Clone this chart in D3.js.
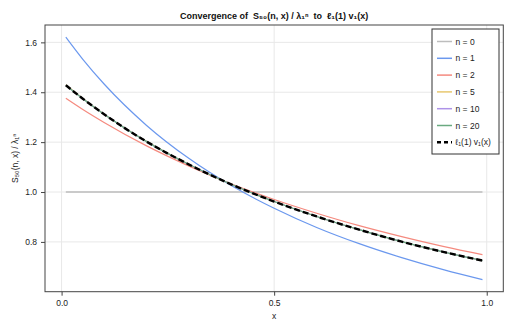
<!DOCTYPE html>
<html>
<head>
<meta charset="utf-8">
<script src="https://cdn.jsdelivr.net/npm/d3@7"></script>
<style>
  body { margin: 0; background: #fff; }
  svg { display: block; font-family: "Liberation Sans", Arial, sans-serif; }
</style>
</head>
<body>
<svg id="chart" width="515" height="332"></svg>
<script>
// ---- data ----
const xs      = [0.01, 0.05, 0.1, 0.2, 0.3, 0.4, 0.5, 0.6, 0.7, 0.8, 0.9, 0.99];
const n0      = [1.0, 1.0, 1.0, 1.0, 1.0, 1.0, 1.0, 1.0, 1.0, 1.0, 1.0, 1.0];
const n1      = [1.621, 1.532, 1.433, 1.267, 1.134, 1.025, 0.935, 0.858, 0.793, 0.737, 0.688, 0.649];
const n2      = [1.376, 1.331, 1.279, 1.185, 1.104, 1.032, 0.970, 0.915, 0.865, 0.821, 0.781, 0.749];
const n5      = [1.430, 1.375, 1.312, 1.203, 1.110, 1.030, 0.962, 0.902, 0.849, 0.801, 0.759, 0.725];
const n10     = [1.428, 1.374, 1.312, 1.202, 1.110, 1.030, 0.962, 0.902, 0.849, 0.801, 0.759, 0.725];
const n20     = [1.428, 1.374, 1.312, 1.202, 1.110, 1.030, 0.962, 0.902, 0.849, 0.801, 0.759, 0.725];
const limit   = [1.428, 1.374, 1.312, 1.202, 1.110, 1.030, 0.962, 0.902, 0.849, 0.801, 0.759, 0.725];
const xTicks  = [0.0, 0.5, 1.0];
const yTicks  = [0.8, 1.0, 1.2, 1.4, 1.6];
const seriesNames = ["n = 0", "n = 1", "n = 2", "n = 5", "n = 10", "n = 20"];
const limitName = "ℓ₁(1) v₁(x)";
const titleText = "Convergence of\u00a0 S₅₀(n, x) / λ₁ⁿ\u00a0 to\u00a0 ℓ₁(1) v₁(x)";
const yLabel = "S₅₀(n, x) / λ₁ⁿ";
const xLabel = "x";

// ---- layout ----
const svg = d3.select("#chart");
const L = 45, R = 503.3, T = 25, B = 291.7;
const colors = ["#bdbdbd", "#6b98ee", "#f58a7f", "#e8c870", "#ae93e8", "#6aaa80"];

const allY = [].concat(n0, n1, n2, n5, n10, n20, limit);
const xr = d3.extent(xs), yr = d3.extent(allY);
const xm = (xr[1] - xr[0]) * 0.05, ym = (yr[1] - yr[0]) * 0.05;
const x = d3.scaleLinear().domain([xr[0] - xm, xr[1] + xm]).range([L, R]);
const y = d3.scaleLinear().domain([yr[0] - ym, yr[1] + ym]).range([B, T]);

// grid
const grid = svg.append("g");
grid.selectAll(".gx").data(xTicks).enter().append("line")
  .attr("x1", d => x(d)).attr("x2", d => x(d)).attr("y1", T).attr("y2", B)
  .attr("stroke", "#e8e8e8").attr("stroke-width", 1);
grid.selectAll(".gy").data(yTicks).enter().append("line")
  .attr("y1", d => y(d)).attr("y2", d => y(d)).attr("x1", L).attr("x2", R)
  .attr("stroke", "#e8e8e8").attr("stroke-width", 1);

// series
const series = [n0, n1, n2, n5, n10, n20];
const line = d3.line().x((d, i) => x(xs[i])).y(d => y(d)).curve(d3.curveMonotoneX);
series.forEach((s, k) => {
  svg.append("path").datum(s).attr("d", line)
    .attr("fill", "none").attr("stroke", colors[k])
    .attr("stroke-width", k === 0 ? 1.5 : 1.2);
});
svg.append("path").datum(limit).attr("d", line)
  .attr("fill", "none").attr("stroke", "#000")
  .attr("stroke-width", 2.4).attr("stroke-dasharray", "6,3");

// frame
svg.append("rect").attr("x", L).attr("y", T).attr("width", R - L).attr("height", B - T)
  .attr("fill", "none").attr("stroke", "#444").attr("stroke-width", 1);

// axes
const xAxis = svg.append("g").attr("transform", `translate(0,${B})`)
  .call(d3.axisBottom(x).tickValues(xTicks).tickFormat(d3.format(".1f")).tickSize(4).tickPadding(4));
const yAxis = svg.append("g").attr("transform", `translate(${L},0)`)
  .call(d3.axisLeft(y).tickValues(yTicks).tickFormat(d3.format(".1f")).tickSize(4).tickPadding(4));
[xAxis, yAxis].forEach(a => {
  a.select(".domain").remove();
  a.selectAll(".tick line").attr("stroke", "#444");
  a.selectAll(".tick text").attr("fill", "#222").style("font-size", "8.5px").style("font-family", "Liberation Sans, Arial, sans-serif");
});

// labels
svg.append("text").attr("x", (L + R) / 2).attr("y", 19).attr("text-anchor", "middle")
  .style("font-size", "9px").style("font-weight", "bold")
  .attr("fill", "#111").text(titleText);
svg.append("text").attr("x", x(0.5)).attr("y", 319).attr("text-anchor", "middle")
  .style("font-size", "8.5px").attr("fill", "#222").text(xLabel);
svg.append("text").attr("transform", `translate(18,${(T + B) / 2}) rotate(-90)`)
  .attr("text-anchor", "middle").style("font-size", "8.5px").attr("fill", "#222").text(yLabel);

// legend
const lg = svg.append("g");
const lx = 432, ly = 29, lw = 67, lh = 125;
lg.append("rect").attr("x", lx).attr("y", ly).attr("width", lw).attr("height", lh)
  .attr("fill", "#fff").attr("stroke", "#333").attr("stroke-width", 1);
const entries = seriesNames.map((nm, k) => ({name: nm, color: colors[k], dash: null, w: 1.5}))
  .concat([{name: limitName, color: "#000", dash: "4,3", w: 2.6}]);
entries.forEach((e, i) => {
  const cy = 41.5 + i * 16.8;
  lg.append("line").attr("x1", 437).attr("x2", 452).attr("y1", cy).attr("y2", cy)
    .attr("stroke", e.color).attr("stroke-width", e.w)
    .attr("stroke-dasharray", e.dash);
  lg.append("text").attr("x", 455.5).attr("y", cy + 3).style("font-size", "8.5px")
    .attr("fill", "#222").text(e.name);
});
</script>
</body>
</html>
